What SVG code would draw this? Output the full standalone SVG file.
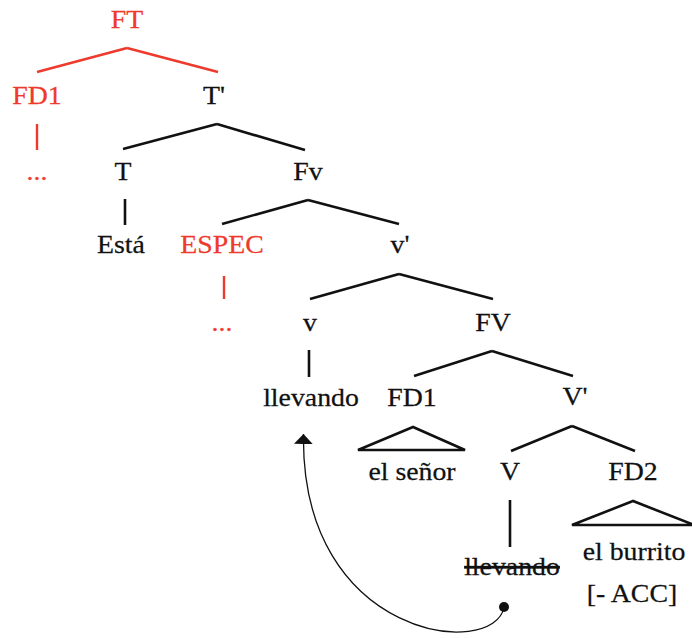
<svg xmlns="http://www.w3.org/2000/svg" width="692" height="638" viewBox="0 0 692 638">
  <style>
    text { font-family: "Liberation Serif", "Times New Roman", serif; font-size: 26px; text-anchor: middle; fill: #111; stroke: #111; stroke-width: 0.25; }
    text.red { fill: #ee3a2c; stroke: #ee3a2c; }
    .edge { stroke: #111; stroke-width: 2.6; fill: none; stroke-linecap: butt; }
    .edge.red { stroke: #ee3a2c; stroke-width: 2.4; }
    .tri { stroke: #111; stroke-width: 2.6; fill: none; stroke-linejoin: miter; }
    .move { stroke: #111; stroke-width: 1.3; fill: none; }
    .strike { text-decoration: line-through; }
  </style>
  <defs>
    <marker id="arrowhead" viewBox="0 0 10 10" refX="10" refY="5" markerWidth="10" markerHeight="19" markerUnits="userSpaceOnUse" orient="auto" preserveAspectRatio="none">
      <path d="M0,0 L10,5 L0,10 Z" fill="#111"/>
    </marker>
  </defs>
  <rect width="692" height="638" fill="#fff"/>

  <!-- tree branches -->
  <g id="connectors">
    <line class="edge red" x1="127" y1="48" x2="37" y2="72"/>
    <line class="edge red" x1="127" y1="48" x2="218" y2="72"/>
    <line class="edge red" x1="37" y1="124" x2="37" y2="150"/>
    <line class="edge" x1="217" y1="124" x2="123" y2="149"/>
    <line class="edge" x1="217" y1="124" x2="305" y2="150"/>
    <line class="edge" x1="125" y1="199" x2="125" y2="225"/>
    <line class="edge" x1="308" y1="200" x2="222" y2="224"/>
    <line class="edge" x1="308" y1="200" x2="399" y2="224"/>
    <line class="edge red" x1="224" y1="276" x2="224" y2="299"/>
    <line class="edge" x1="399" y1="274" x2="310" y2="299"/>
    <line class="edge" x1="399" y1="274" x2="493" y2="299"/>
    <line class="edge" x1="309" y1="350" x2="309" y2="377"/>
    <line class="edge" x1="492" y1="351" x2="414" y2="376"/>
    <line class="edge" x1="492" y1="351" x2="573" y2="376"/>
    <line class="edge" x1="572" y1="426" x2="511" y2="451"/>
    <line class="edge" x1="572" y1="426" x2="635" y2="451"/>
    <polygon class="tri" points="413,427 358,450 465,450"/>
    <line class="edge" x1="510" y1="500" x2="510" y2="547"/>
    <polygon class="tri" points="633,501 572,525 694,525"/>
    <!-- verb movement: trace back up to v -->
    <path class="move" d="M504,607 C495,660 300,640 303.5,434" marker-end="url(#arrowhead)"/>
    <circle cx="504" cy="607" r="5" fill="#111"/>
  </g>

  <g id="FT"><text class="red" transform="translate(127,28) scale(1.07,1)">FT</text></g>
  <g id="FD1-spec"><text class="red" transform="translate(37,104) scale(1.07,1)">FD1</text></g>
  <g id="T-bar"><text transform="translate(214,104) scale(1.07,1)">T'</text></g>
  <g id="FD1-dots"><text class="red" transform="translate(37,180) scale(1.07,1)">...</text></g>
  <g id="T"><text transform="translate(123,180) scale(1.07,1)">T</text></g>
  <g id="Fv"><text transform="translate(308,180) scale(1.07,1)">Fv</text></g>
  <g id="Esta"><text transform="translate(121,253) scale(1.07,1)">Está</text></g>
  <g id="ESPEC"><text class="red" transform="translate(222,253) scale(1.07,1)">ESPEC</text></g>
  <g id="v-bar"><text transform="translate(400,253) scale(1.07,1)">v'</text></g>
  <g id="ESPEC-dots"><text class="red" transform="translate(222,331) scale(1.07,1)">...</text></g>
  <g id="v"><text transform="translate(310,331) scale(1.07,1)">v</text></g>
  <g id="FV"><text transform="translate(493,331) scale(1.07,1)">FV</text></g>
  <g id="llevando"><text transform="translate(311,406) scale(1.07,1)">llevando</text></g>
  <g id="FD1"><text transform="translate(412,406) scale(1.07,1)">FD1</text></g>
  <g id="V-bar"><text transform="translate(575,405) scale(1.07,1)">V'</text></g>
  <g id="el-senor"><text transform="translate(412,480) scale(1.07,1)">el señor</text></g>
  <g id="V"><text transform="translate(510,480) scale(1.07,1)">V</text></g>
  <g id="FD2"><text transform="translate(633,480) scale(1.07,1)">FD2</text></g>
  <g id="llevando-trace"><text class="strike" transform="translate(512,575) scale(1.07,1)">llevando</text></g>
  <g id="el-burrito"><text transform="translate(634,560) scale(1.07,1)">el burrito</text></g>
  <g id="acc"><text transform="translate(632,602) scale(1.07,1)">[- ACC]</text></g>
</svg>
